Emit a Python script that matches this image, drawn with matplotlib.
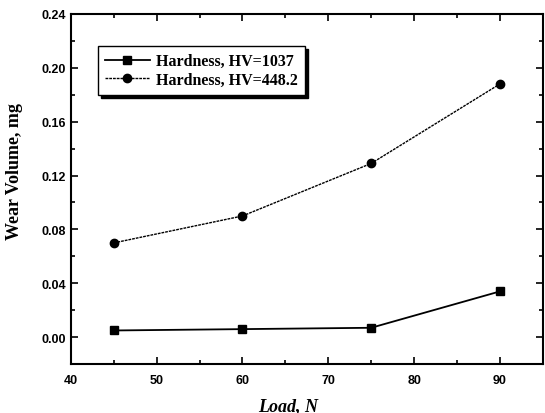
import matplotlib.pyplot as plt
from matplotlib.ticker import MultipleLocator

load = [45, 60, 75, 90]
wear_hv1037 = [0.005, 0.006, 0.007, 0.034]
wear_hv448 = [0.070, 0.090, 0.129, 0.188]
labels = ["Hardness, HV=1037", "Hardness, HV=448.2"]

fig = plt.figure(figsize=(5.45, 4.14), dpi=100)
ax = fig.add_axes([0.130, 0.118, 0.866, 0.846])

ax.plot(load, wear_hv1037, color="black", lw=1.3, marker="s", ms=6, label=labels[0])
ax.plot(load, wear_hv448, color="black", lw=1.0, ls=(0, (2, 0.7)), marker="o", ms=6,
        label=labels[1])

ax.xaxis.set_minor_locator(MultipleLocator(5))
ax.yaxis.set_minor_locator(MultipleLocator(0.02))
ax.set_xticks([40, 50, 60, 70, 80, 90])
ax.set_xticklabels(["40", "50", "60", "70", "80", "90"])
ax.set_yticks([0.0, 0.04, 0.08, 0.12, 0.16, 0.20, 0.24])
ax.set_yticklabels(["0.00", "0.04", "0.08", "0.12", "0.16", "0.20", "0.24"])
ax.set_xlim(40, 95)
ax.set_ylim(-0.02, 0.24)

ax.tick_params(which="both", direction="in", top=True, right=True, width=1.2)
ax.tick_params(which="major", length=5)
ax.tick_params(which="minor", length=3)
ax.tick_params(axis="x", pad=7)
for lab in ax.get_xticklabels() + ax.get_yticklabels():
    lab.set_fontfamily("Liberation Sans")
    lab.set_fontweight("bold")
    lab.set_fontsize(9)
for sp in ax.spines.values():
    sp.set_linewidth(1.5)

ax.set_xlabel("Load, N", family="Liberation Serif", weight="bold", style="italic",
              fontsize=13)
ax.set_ylabel("Wear Volume, mg", family="Liberation Serif", weight="bold",
              fontsize=13)
ax.xaxis.set_label_coords(0.46, -0.095)
ax.yaxis.set_label_coords(-0.102, 0.554)

leg = ax.legend(loc="upper left", bbox_to_anchor=(0.057, 0.908), borderaxespad=0,
                fancybox=False, shadow={"color": "black", "alpha": 1}, framealpha=1,
                edgecolor="black",
                prop={"family": "Liberation Serif", "weight": "bold", "size": 11.5},
                handlelength=2.8, handletextpad=0.4, borderpad=0.45, labelspacing=0.15)
leg.get_frame().set_linewidth(1.0)

fig.savefig("out.png", dpi=100)
